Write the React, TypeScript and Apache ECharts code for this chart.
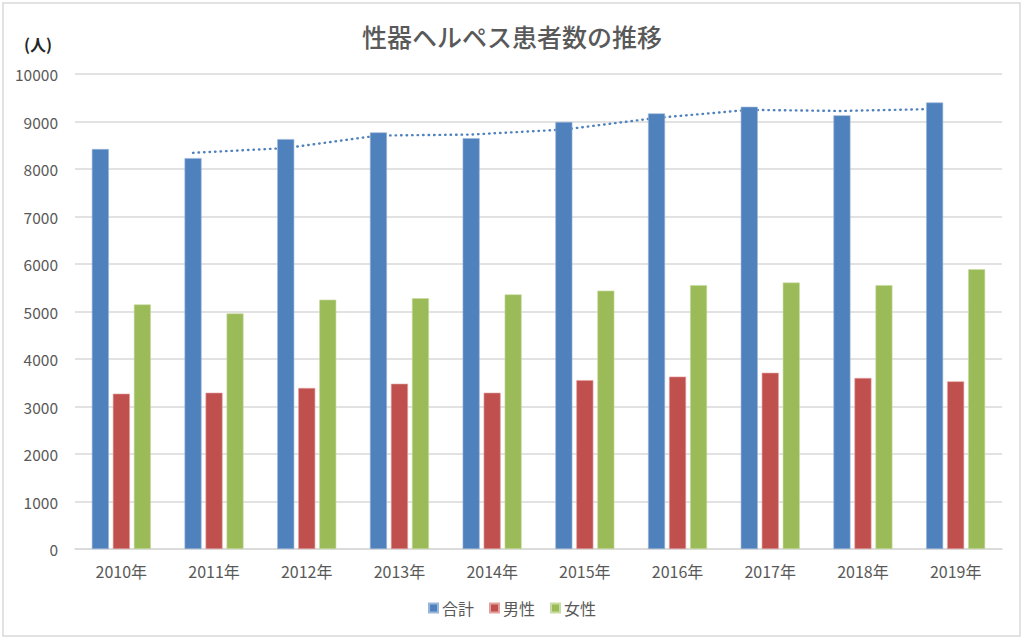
import React, { useEffect, useRef } from "react";
import * as echarts from "echarts";

const categories = ["2010年", "2011年", "2012年", "2013年", "2014年", "2015年", "2016年", "2017年", "2018年", "2019年"];
const totalValues = [8420, 8230, 8630, 8770, 8650, 8990, 9170, 9310, 9130, 9400];
const maleValues = [3270, 3290, 3390, 3480, 3290, 3555, 3630, 3710, 3600, 3530];
const femaleValues = [5150, 4960, 5250, 5280, 5360, 5440, 5555, 5610, 5555, 5890];
// dotted trend line (starts at 2011)
const trendValues = [null, 8340, 8440, 8705, 8725, 8830, 9075, 9245, 9222, 9263];
const yTicks = { min: 0, max: 10000, interval: 1000 };

const W = 1024;
const H = 640;
const GRID = { left: 75, right: 22, top: 74, bottom: 91 };
const BAR_W = 17;
const BAR_GAP_PX = 4;

export default function App() {
  const ref = useRef<HTMLDivElement>(null);
  useEffect(() => {
    if (!ref.current) return;
    const chart = echarts.init(ref.current, null, { renderer: "svg" });
    const plotW = W - GRID.left - GRID.right;
    const catW = plotW / categories.length;
    const blueOffset = -(BAR_W + BAR_GAP_PX) / catW; // in category units
    const trendData = trendValues
      .map((v, i) => (v == null ? null : [i + blueOffset, v]))
      .filter((d) => d !== null);
    const font = "'Noto Sans CJK JP', 'Noto Sans', sans-serif";
    chart.setOption({
      animation: false,
      textStyle: { fontFamily: font },
      title: {
        text: "性器ヘルペス患者数の推移",
        left: "center",
        top: 18,
        textStyle: { fontSize: 25, fontWeight: 500, color: "#595959", fontFamily: font },
      },
      graphic: [
        {
          type: "rect",
          shape: { x: 3, y: 3, width: 1017, height: 633 },
          style: { fill: "none", stroke: "#d9d9d9", lineWidth: 1.5 },
          silent: true,
          z: -10,
        },
        {
          type: "text",
          x: 24,
          y: 36,
          style: { text: "(人)", fontSize: 16, fontWeight: "bold", fill: "#262626", fontFamily: font },
        },
      ],
      legend: {
        data: ["合計", "男性", "女性"],
        bottom: 19,
        left: "center",
        itemWidth: 9,
        itemHeight: 9,
        itemGap: 15,
        icon: "rect",
        textStyle: { fontSize: 16, color: "#595959", fontFamily: font, padding: [0, 0, 0, -1] },
      },
      grid: { ...GRID, containLabel: false },
      xAxis: [
        {
          type: "category",
          data: categories,
          axisLine: { lineStyle: { color: "#d9d9d9", width: 1.5 } },
          axisTick: { show: false },
          axisLabel: { color: "#595959", fontSize: 16, margin: 14, fontFamily: font },
        },
        {
          type: "value",
          min: -0.5,
          max: categories.length - 0.5,
          show: false,
        },
      ],
      yAxis: {
        type: "value",
        ...yTicks,
        axisLine: { show: false },
        axisTick: { show: false },
        axisLabel: {
          color: "#595959",
          fontSize: 15.5,
          margin: 17,
          fontFamily: font,
          formatter: (v: number) => String(v),
        },
        splitLine: { lineStyle: { color: "#d9d9d9", width: 1.5 } },
      },
      series: [
        {
          name: "合計",
          type: "bar",
          data: totalValues,
          barWidth: BAR_W,
          barGap: (BAR_GAP_PX / BAR_W) * 100 + "%",
          itemStyle: { color: "#4F81BD", borderColor: "#9ab6da", borderWidth: 0.6 },
          z: 3,
        },
        {
          name: "男性",
          type: "bar",
          data: maleValues,
          barWidth: BAR_W,
          barGap: (BAR_GAP_PX / BAR_W) * 100 + "%",
          itemStyle: { color: "#C0504D", borderColor: "#e0a19f", borderWidth: 0.6 },
          z: 3,
        },
        {
          name: "女性",
          type: "bar",
          data: femaleValues,
          barWidth: BAR_W,
          barGap: (BAR_GAP_PX / BAR_W) * 100 + "%",
          itemStyle: { color: "#9BBB59", borderColor: "#c9dca2", borderWidth: 0.6 },
          z: 3,
        },
        {
          name: "trend",
          type: "line",
          xAxisIndex: 1,
          data: trendData,
          symbol: "none",
          lineStyle: { color: "#4F81BD", width: 2.4, type: [0.5, 5], cap: "round" },
          z: 2,
          silent: true,
        },
      ],
    });
    return () => chart.dispose();
  }, []);
  return (
    <div
      ref={ref}
      style={{ position: "fixed", left: 0, top: 0, width: W, height: H, background: "#fff" }}
    />
  );
}
